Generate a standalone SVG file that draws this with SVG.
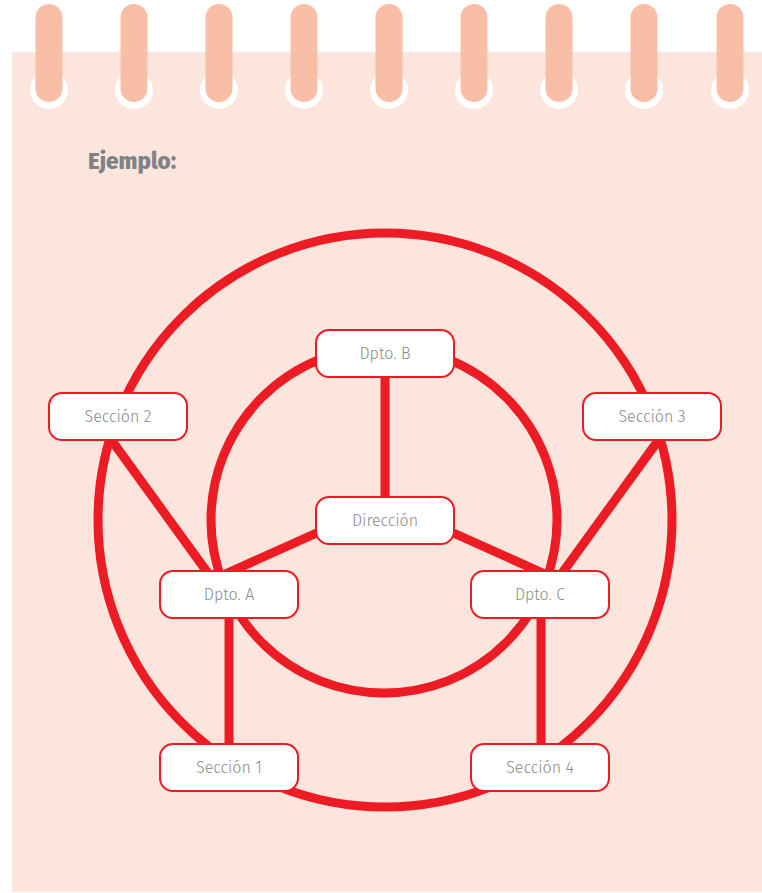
<svg xmlns="http://www.w3.org/2000/svg" width="762" height="893" viewBox="0 0 762 893">
  <defs>
    <style>
      .ring-hole { fill: #ffffff; }
      .ring-bar { fill: #f9bea6; }
      .wire { fill: none; stroke: #ed1c24; stroke-width: 9; }
      .box { fill: #ffffff; stroke: #ed1c24; stroke-width: 2; }
      .label { font-family: "Fira Sans", "Open Sans", "Noto Sans", sans-serif; font-size: 16px; font-weight: 300; fill: #8a8a8a; text-anchor: middle; dominant-baseline: central; }
      .title { font-family: "Fira Sans", "Open Sans", "Noto Sans", sans-serif; font-size: 22.5px; font-weight: 800; fill: #808285; }
    </style>
    <g id="ring">
      <circle class="ring-hole" cx="0" cy="90" r="19"/>
      <rect class="ring-bar" x="-13.5" y="4" width="27" height="98" rx="13.5"/>
    </g>
  </defs>

  <!-- page -->
  <rect x="0" y="0" width="762" height="893" fill="#ffffff"/>
  <rect x="12" y="52" width="750" height="840" fill="#fce5dc"/>

  <!-- spiral binding -->
  <g id="binding">
    <use href="#ring" x="49"/>
    <use href="#ring" x="134"/>
    <use href="#ring" x="219"/>
    <use href="#ring" x="304"/>
    <use href="#ring" x="389"/>
    <use href="#ring" x="474"/>
    <use href="#ring" x="559"/>
    <use href="#ring" x="644"/>
    <use href="#ring" x="730"/>
  </g>

  <text class="title" x="88" y="169">Ejemplo:</text>

  <!-- connectors -->
  <g id="connectors">
    <circle class="wire" cx="385" cy="520" r="287"/>
    <circle class="wire" cx="384" cy="520" r="173"/>
    <line class="wire" x1="385" y1="377" x2="385" y2="497"/>
    <line class="wire" x1="330" y1="527" x2="212" y2="580"/>
    <line class="wire" x1="440" y1="527" x2="558" y2="580"/>
    <line class="wire" x1="110" y1="438" x2="210" y2="576"/>
    <line class="wire" x1="660" y1="438" x2="560" y2="576"/>
    <line class="wire" x1="229" y1="618" x2="229" y2="744"/>
    <line class="wire" x1="541" y1="618" x2="541" y2="744"/>
  </g>

  <!-- nodes -->
  <g id="dpto-b">
    <rect class="box" x="316" y="330" width="138" height="47" rx="13"/>
    <text class="label" x="385" y="353.5">Dpto. B</text>
  </g>
  <g id="seccion-2">
    <rect class="box" x="49" y="393" width="138" height="47" rx="13"/>
    <text class="label" x="118" y="416.5">Sección 2</text>
  </g>
  <g id="seccion-3">
    <rect class="box" x="583" y="393" width="138" height="47" rx="13"/>
    <text class="label" x="652" y="416.5">Sección 3</text>
  </g>
  <g id="direccion">
    <rect class="box" x="316" y="497" width="138" height="47" rx="13"/>
    <text class="label" x="385" y="520.5">Dirección</text>
  </g>
  <g id="dpto-a">
    <rect class="box" x="160" y="571" width="138" height="47" rx="13"/>
    <text class="label" x="229" y="594.5">Dpto. A</text>
  </g>
  <g id="dpto-c">
    <rect class="box" x="471" y="571" width="138" height="47" rx="13"/>
    <text class="label" x="540" y="594.5">Dpto. C</text>
  </g>
  <g id="seccion-1">
    <rect class="box" x="160" y="744" width="138" height="47" rx="13"/>
    <text class="label" x="229" y="767.5">Sección 1</text>
  </g>
  <g id="seccion-4">
    <rect class="box" x="471" y="744" width="138" height="47" rx="13"/>
    <text class="label" x="540" y="767.5">Sección 4</text>
  </g>
</svg>
